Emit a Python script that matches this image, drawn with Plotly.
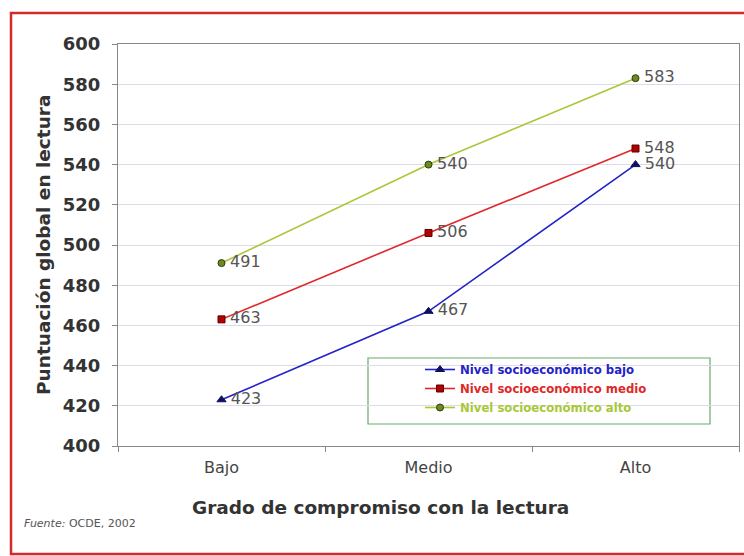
import plotly.graph_objects as go

categories = ["Bajo", "Medio", "Alto"]
bajo = [423, 467, 540]
medio = [463, 506, 548]
alto = [491, 540, 583]
series_names = ["Nivel socioeconómico bajo", "Nivel socioeconómico medio", "Nivel socioeconómico alto"]
y_ticks = [400, 420, 440, 460, 480, 500, 520, 540, 560, 580, 600]

W, H = 744, 556
L, R, T, B = 118, 5, 44, 110
pw = W - L - R
ph = H - T - B

def px_x(p):
    return (p - L) / pw

def px_y(p):
    return (H - B - p) / ph

styles = [
    dict(line="#2323C8", mk="#101060", mkl="#101060", sym="triangle-up", size=8),
    dict(line="#E02828", mk="#B00000", mkl="#600000", sym="square", size=7),
    dict(line="#A8C838", mk="#6E8A1E", mkl="#2E3A10", sym="circle", size=7),
]

fig = go.Figure()
for vals, name, st in zip([bajo, medio, alto], series_names, styles):
    fig.add_trace(go.Scatter(
        x=categories, y=vals, mode="lines+markers+text",
        name=f'<b><span style="color:{st["line"]}">{name}</span></b>',
        line=dict(color=st["line"], width=1.6),
        marker=dict(symbol=st["sym"], size=st["size"], color=st["mk"],
                    line=dict(color=st["mkl"], width=1)),
        text=["\u2009" + str(v) for v in vals], textposition="middle right",
        textfont=dict(family="DejaVu Sans", size=16, color="#555555"),
    ))

# legend box
fig.add_shape(type="rect", xref="paper", yref="paper",
              x0=px_x(368), x1=px_x(710), y0=px_y(424), y1=px_y(358),
              line=dict(color="#6AAA6A", width=1.2), fillcolor="white", layer="below")
# red frame
fig.add_shape(type="rect", xref="paper", yref="paper",
              x0=px_x(11), x1=px_x(760), y0=px_y(554), y1=px_y(13),
              line=dict(color="#D42A2A", width=2.5))

fig.add_annotation(text="<b>Puntuación global en lectura</b>", xref="paper", yref="paper",
                   x=px_x(43), y=px_y(245), xanchor="center", yanchor="middle",
                   textangle=-90, showarrow=False,
                   font=dict(family="DejaVu Sans", size=18.5, color="#333333"))
fig.add_annotation(text="<b>Grado de compromiso con la lectura</b>", xref="paper", yref="paper",
                   x=px_x(380), y=px_y(507), xanchor="center", yanchor="middle", showarrow=False,
                   font=dict(family="DejaVu Sans", size=18.5, color="#333333"))
fig.add_annotation(text="<i>Fuente:</i> OCDE, 2002", xref="paper", yref="paper",
                   x=px_x(22), y=px_y(523), xanchor="left", yanchor="middle", showarrow=False,
                   font=dict(family="DejaVu Sans", size=11, color="#555555"))

fig.update_layout(
    width=W, height=H,
    margin=dict(l=L, r=R, t=T, b=B),
    paper_bgcolor="white", plot_bgcolor="white",
    showlegend=True,
    legend=dict(x=px_x(420), y=px_y(355), xanchor="left", yanchor="top",
                bgcolor="rgba(0,0,0,0)", borderwidth=0,
                font=dict(family="DejaVu Sans", size=11.7),
                itemwidth=30, tracegroupgap=0),
    xaxis=dict(type="category", tickson="boundaries", ticks="outside", ticklen=5,
               tickcolor="#888888", showline=True, linecolor="#888888", mirror=True,
               showgrid=False, range=[-0.5, 2.5], ticklabelstandoff=7,
               tickfont=dict(family="DejaVu Sans", size=16, color="#444444")),
    yaxis=dict(range=[400, 600], tickvals=y_ticks, ticks="outside", ticklen=5,
               tickcolor="#888888", showline=True, linecolor="#888888", mirror=True,
               showgrid=True, gridcolor="#DCDCE8", gridwidth=1, zeroline=False,
               ticklabelstandoff=8,
               tickfont=dict(family="DejaVu Sans", size=18, color="#333333", weight="bold")),
)

fig.write_html("out.html", config={"displayModeBar": False})
with open("out.html", "r", encoding="utf-8") as f:
    html = f.read()
html = html.replace("<body>", '<body style="margin:0;padding:0">', 1)
with open("out.html", "w", encoding="utf-8") as f:
    f.write(html)
